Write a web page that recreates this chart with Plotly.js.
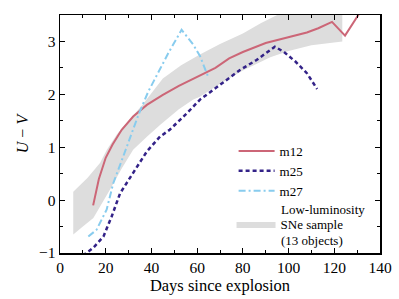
<!DOCTYPE html>
<html>
<head>
<meta charset="utf-8">
<script src="https://cdn.plot.ly/plotly-3.0.1.min.js"></script>
<style>html,body{margin:0;padding:0;background:#fff;}#chart{width:399px;height:299px;}</style>
</head>
<body>
<div id="chart"></div>
<script>
// m12 model
const m12Days = [14.5, 17, 20, 23, 27, 32, 38, 45, 52, 60, 65, 68, 74, 80, 90, 100, 108, 113, 119, 124.7, 132];
const m12Vals = [-0.1, 0.4, 0.8, 1.05, 1.33, 1.58, 1.8, 1.99, 2.16, 2.33, 2.43, 2.5, 2.68, 2.8, 2.97, 3.08, 3.17, 3.25, 3.37, 3.11, 3.6];
// m25 model
const m25Days = [10, 14.6, 19, 22.6, 26.3, 32, 38, 43.75, 48, 55, 61.25, 70, 78.75, 86, 94, 98, 103, 108, 112.5];
const m25Vals = [-1.05, -0.9, -0.69, -0.31, 0.13, 0.51, 0.92, 1.2, 1.33, 1.62, 1.9, 2.18, 2.46, 2.65, 2.9, 2.8, 2.62, 2.4, 2.1];
// m27 model
const m27Days = [12.4, 16, 20.4, 23.3, 27.7, 31, 34.3, 38.6, 43, 47.4, 53.2, 58.3, 61.3, 65];
const m27Vals = [-0.69, -0.56, -0.18, 0.32, 0.83, 1.22, 1.61, 2.05, 2.42, 2.78, 3.22, 2.94, 2.72, 2.31];
// Low-luminosity SNe sample envelope
const bandUpperDays = [5.8, 12, 17.5, 20.5, 25, 30, 36, 45, 53, 61, 70, 80, 88, 95, 105, 123.5];
const bandUpperVals = [0.16, 0.42, 0.7, 0.95, 1.25, 1.5, 1.8, 2.3, 2.55, 2.75, 2.95, 3.15, 3.35, 3.5, 3.6, 3.7];
const bandLowerDays = [5.8, 10, 14.6, 21.9, 27, 32, 38, 44, 52, 58.3, 61, 70, 80, 92, 100, 110, 123.5];
const bandLowerVals = [-0.65, -0.5, -0.34, 0.2, 0.6, 0.95, 1.2, 1.43, 1.72, 1.9, 1.95, 2.2, 2.45, 2.7, 2.82, 2.93, 3.0];

const xTicks = [0, 20, 40, 60, 80, 100, 120, 140];
const yTicks = [-1, 0, 1, 2, 3];
const yTickLabels = ['\u22121', '0', '1', '2', '3'];
const bandLabelLines = ['Low-luminosity', 'SNe sample', '(13 objects)'];

const bandX = bandUpperDays.concat(bandLowerDays.slice().reverse());
const bandY = bandUpperVals.concat(bandLowerVals.slice().reverse());

const FONT = 'Liberation Serif, Times New Roman, serif';

const data = [
  {x: bandX, y: bandY, type: 'scatter', mode: 'lines', fill: 'toself',
   fillcolor: '#dddddd', line: {width: 0, color: '#dddddd'},
   name: bandLabelLines[1], legend: 'legend2', hoverinfo: 'skip'},
  {x: m12Days, y: m12Vals, type: 'scatter', mode: 'lines', name: 'm12',
   line: {color: '#cc6677', width: 2}},
  {x: m25Days, y: m25Vals, type: 'scatter', mode: 'lines', name: 'm25',
   line: {color: '#332288', width: 2.5, dash: '4px,3px'}},
  {x: m27Days, y: m27Vals, type: 'scatter', mode: 'lines', name: 'm27',
   line: {color: '#88ccee', width: 2, dash: '7px,3px,2px,3px'}}
];

const axisCommon = {
  showline: true, linecolor: '#000', linewidth: 1.5, mirror: 'ticks',
  ticks: 'inside', ticklen: 5, tickwidth: 1, tickcolor: '#000',
  showgrid: false, zeroline: false,
  tickfont: {family: FONT, size: 15.5, color: '#000'}
};

const legendFont = {family: FONT, size: 13, color: '#000'};

const layout = {
  width: 399, height: 299,
  margin: {l: 60, r: 19, t: 15, b: 46},
  paper_bgcolor: '#fff', plot_bgcolor: '#fff',
  font: {family: FONT, color: '#000'},
  showlegend: true,
  legend: {x: 0.5425, y: 0.4916, xanchor: 'left', yanchor: 'top',
           bgcolor: 'rgba(0,0,0,0)', borderwidth: 0,
           font: legendFont, tracegroupgap: 0, itemwidth: 36},
  legend2: {x: 0.536, y: 0.185, xanchor: 'left', yanchor: 'top',
           bgcolor: 'rgba(0,0,0,0)', borderwidth: 0,
           font: legendFont, itemwidth: 39},
  annotations: [
    {text: bandLabelLines[0], xref: 'paper', yref: 'paper', x: 0.6875, y: 0.1828,
     xanchor: 'left', yanchor: 'middle', showarrow: false, font: legendFont, borderpad: 0},
    {text: bandLabelLines[2], xref: 'paper', yref: 'paper', x: 0.6875, y: 0.0525,
     xanchor: 'left', yanchor: 'middle', showarrow: false, font: legendFont, borderpad: 0}
  ],
  xaxis: Object.assign({}, axisCommon, {
    range: [0, 140], tickvals: xTicks, ticktext: xTicks.map(String),
    minor: {dtick: 10, ticklen: 3, tickcolor: '#000', ticks: 'inside'},
    title: {text: 'Days since explosion', font: {family: FONT, size: 16.5, color: '#000'}, standoff: 2}
  }),
  yaxis: Object.assign({}, axisCommon, {
    range: [-1, 3.5], tickvals: yTicks, ticktext: yTickLabels,
    minor: {dtick: 0.5, ticklen: 3, tickcolor: '#000', ticks: 'inside'},
    title: {text: '<i>U</i> \u2212 <i>V</i>', font: {family: FONT, size: 16, color: '#000'}, standoff: 6}
  })
};

Plotly.newPlot('chart', data, layout, {displayModeBar: false, staticPlot: true});
</script>
</body>
</html>
